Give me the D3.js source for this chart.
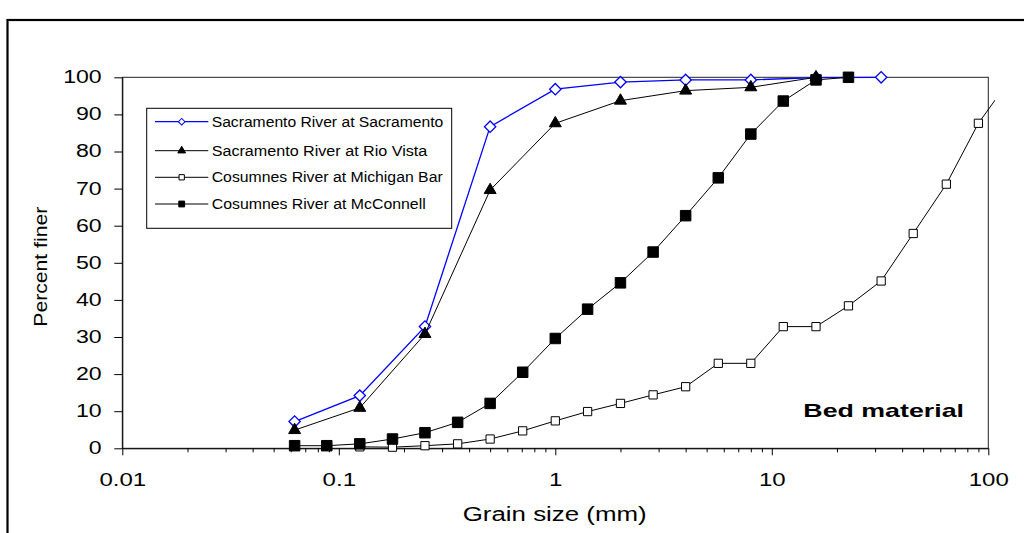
<!DOCTYPE html>
<html>
<head>
<meta charset="utf-8">
<script src="https://cdn.jsdelivr.net/npm/d3@7"></script>
<style>
    body { margin: 0; background: #fff; }
    #visual { width: 1024px; height: 533px; }
    text { font-family: "Liberation Sans", Arial, sans-serif; fill: #000; }
</style>
</head>
<body>
<div id="visual"></div>
<script>
var width = 1024;
var height = 533;

// grain size distributions (size in mm, percent finer)
var sacSizes = [0.0625, 0.125, 0.25, 0.5, 1, 2, 4, 8, 16, 32];
var sacPct = [7.2, 14.2, 32.8, 86.7, 96.8, 98.7, 99.3, 99.3, 99.9, 100];

var rioSizes = [0.0625, 0.125, 0.25, 0.5, 1, 2, 4, 8, 16];
var rioPct = [4.9, 10.9, 30.8, 69.6, 87.6, 93.7, 96.4, 97.3, 100];

var michSizes = [0.125, 0.177, 0.25, 0.354, 0.5, 0.707, 1, 1.41, 2, 2.83, 4, 5.66, 8, 11.3, 16, 22.6, 32, 45, 64, 90, 128];
var michPct = [0.4, 0.3, 0.7, 1.2, 2.5, 4.7, 7.4, 9.9, 12.1, 14.4, 16.6, 22.9, 22.9, 32.8, 32.8, 38.4, 45.1, 57.9, 71.2, 87.6, 100];

var mcSizes = [0.0625, 0.088, 0.125, 0.177, 0.25, 0.354, 0.5, 0.707, 1, 1.41, 2, 2.83, 4, 5.66, 8, 11.3, 16, 22.6];
var mcPct = [0.7, 0.7, 1.2, 2.5, 4.2, 7.0, 12.1, 20.5, 29.6, 37.5, 44.6, 52.9, 62.7, 72.9, 84.7, 93.6, 99.3, 100];

var seriesNames = ['Sacramento River at Sacramento', 'Sacramento River at Rio Vista',
    'Cosumnes River at Michigan Bar', 'Cosumnes River at McConnell'];

var xTicks = [0.01, 0.1, 1, 10, 100];
var yTicks = [0, 10, 20, 30, 40, 50, 60, 70, 80, 90, 100];

var margin = {
    top: 77.3,
    bottom: 84.7,
    left: 122.3,
    right: 35.7
}

var svg = d3.select('#visual')
    .append('svg')
    .attr('width', width)
    .attr('height', height);

// outer chart frame (runs off the right and bottom of the picture)
svg.append('rect')
    .attr('x', 7.5).attr('y', 20)
    .attr('width', 1100).attr('height', 600)
    .attr('fill', 'none')
    .attr('stroke', '#000')
    .attr('stroke-width', 2.2);

var x_scale = d3.scaleLog()
    .domain([0.01, 100])
    .range([margin.left, width - margin.right]);

var y_scale = d3.scaleLinear()
    .domain([0, 100])
    .range([height - margin.bottom, margin.top]);

// stretch text horizontally like the original export
function widen(sel, k) {
    sel.each(function () {
        var w = this.getComputedTextLength();
        d3.select(this).attr('textLength', w * k).attr('lengthAdjust', 'spacingAndGlyphs');
    });
}

// plot area box
svg.append('rect')
    .attr('x', margin.left)
    .attr('y', margin.top)
    .attr('width', x_scale.range()[1] - margin.left)
    .attr('height', y_scale.range()[0] - margin.top)
    .attr('fill', 'none')
    .attr('stroke', '#222')
    .attr('stroke-width', 1);

// minor ticks on x
var minor = [];
[0.01, 0.1, 1, 10].forEach(function (d) {
    for (var k = 2; k <= 9; k++) minor.push(d * k);
});
svg.append('g')
    .attr('transform', 'translate(0,' + y_scale(0) + ')')
    .call(d3.axisBottom(x_scale).tickValues(minor).tickSize(4).tickFormat(''))
    .call(function (g) { g.select('.domain').remove(); });

var x_axis = svg.append('g')
    .attr('class', 'x axis')
    .attr('transform', 'translate(0,' + y_scale(0) + ')')
    .call(d3.axisBottom(x_scale).tickValues(xTicks).tickSize(7).tickSizeOuter(0)
        .tickFormat(function (d) { return String(d); }));
x_axis.selectAll('text')
    .attr('y', 37.4).attr('dy', null)
    .attr('font-size', '18.5px');
widen(x_axis.selectAll('text'), 1.3);

var y_axis = svg.append('g')
    .attr('class', 'y axis')
    .attr('transform', 'translate(' + margin.left + ',0)')
    .call(d3.axisLeft(y_scale).tickValues(yTicks).tickSize(8).tickSizeOuter(0).tickPadding(12.6));
y_axis.selectAll('text')
    .attr('font-size', '17.5px')
    .attr('dy', '5.4');
widen(y_axis.selectAll('text'), 1.32);

svg.selectAll('.axis path, .axis line').attr('stroke', '#000');
svg.selectAll('.axis text').attr('font-family', '"Liberation Sans", Arial, sans-serif').attr('fill', '#000');

// axis titles
svg.append('text')
    .attr('x', 554.7).attr('y', 520.7)
    .attr('text-anchor', 'middle')
    .attr('font-size', '19.5px')
    .attr('textLength', 184).attr('lengthAdjust', 'spacingAndGlyphs')
    .text('Grain size (mm)');

svg.append('text')
    .attr('transform', 'translate(46.7,266.7) rotate(-90)')
    .attr('text-anchor', 'middle')
    .attr('font-size', '18.6px')
    .attr('textLength', 120).attr('lengthAdjust', 'spacingAndGlyphs')
    .text('Percent finer');

svg.append('text')
    .attr('x', 803.3).attr('y', 416.7)
    .attr('font-size', '18.6px')
    .attr('font-weight', 'bold')
    .attr('textLength', 160.7).attr('lengthAdjust', 'spacingAndGlyphs')
    .text('Bed material');

// series
var series = [
    { name: seriesNames[0], sizes: sacSizes, pct: sacPct, color: '#0000ff', lw: 1.3,
        sym: d3.symbolSquare, size: 64, rot: 45, fill: '#fff', legSize: 22 },
    { name: seriesNames[1], sizes: rioSizes, pct: rioPct, color: '#000', lw: 1,
        sym: d3.symbolTriangle, size: 62, rot: 0, fill: '#000', legSize: 26 },
    { name: seriesNames[2], sizes: michSizes, pct: michPct, color: '#000', lw: 1,
        sym: d3.symbolSquare, size: 68, rot: 0, fill: '#fff', legSize: 28 },
    { name: seriesNames[3], sizes: mcSizes, pct: mcPct, color: '#000', lw: 1,
        sym: d3.symbolSquare, size: 110, rot: 0, fill: '#000', legSize: 34 }
];

svg.append('clipPath').attr('id', 'clip')
    .append('rect')
    .attr('x', 0).attr('y', 0)
    .attr('width', 995).attr('height', height);

var line = d3.line()
    .x(function (d) { return x_scale(d[0]); })
    .y(function (d) { return y_scale(d[1]); });

series.forEach(function (s) {
    var pts = d3.zip(s.sizes, s.pct);
    svg.append('path')
        .datum(pts)
        .attr('clip-path', 'url(#clip)')
        .attr('d', line)
        .attr('fill', 'none')
        .attr('stroke', s.color)
        .attr('stroke-width', s.lw);

    svg.append('g').selectAll('path')
        .data(pts.filter(function (d) { return d[0] <= 100; }))
        .enter().append('path')
        .attr('d', d3.symbol().type(s.sym).size(s.size))
        .attr('transform', function (d) {
            return 'translate(' + x_scale(d[0]) + ',' + y_scale(d[1]) + ') rotate(' + s.rot + ')';
        })
        .attr('fill', s.fill)
        .attr('stroke', s.color)
        .attr('stroke-width', s.lw);
});

// legend
var legend = svg.append('g').attr('transform', 'translate(146.7,108.3)');
legend.append('rect')
    .attr('width', 305).attr('height', 120)
    .attr('fill', '#fff')
    .attr('stroke', '#000')
    .attr('stroke-width', 1);

var rowY = [13.4, 42.4, 69, 95.7];
var textLen = [231.6, 215.6, 231, 214];
series.forEach(function (s, i) {
    var row = legend.append('g').attr('transform', 'translate(0,' + rowY[i] + ')');
    row.append('line')
        .attr('x1', 8.3).attr('x2', 61.6)
        .attr('stroke', s.color)
        .attr('stroke-width', s.lw);
    row.append('path')
        .attr('d', d3.symbol().type(s.sym).size(s.legSize))
        .attr('transform', 'translate(35,0) rotate(' + s.rot + ')')
        .attr('fill', s.fill)
        .attr('stroke', s.color)
        .attr('stroke-width', 1);
    row.append('text')
        .attr('x', 65).attr('y', 5)
        .attr('font-size', '14px')
        .attr('textLength', textLen[i]).attr('lengthAdjust', 'spacingAndGlyphs')
        .text(s.name);
});
</script>
</body>
</html>
